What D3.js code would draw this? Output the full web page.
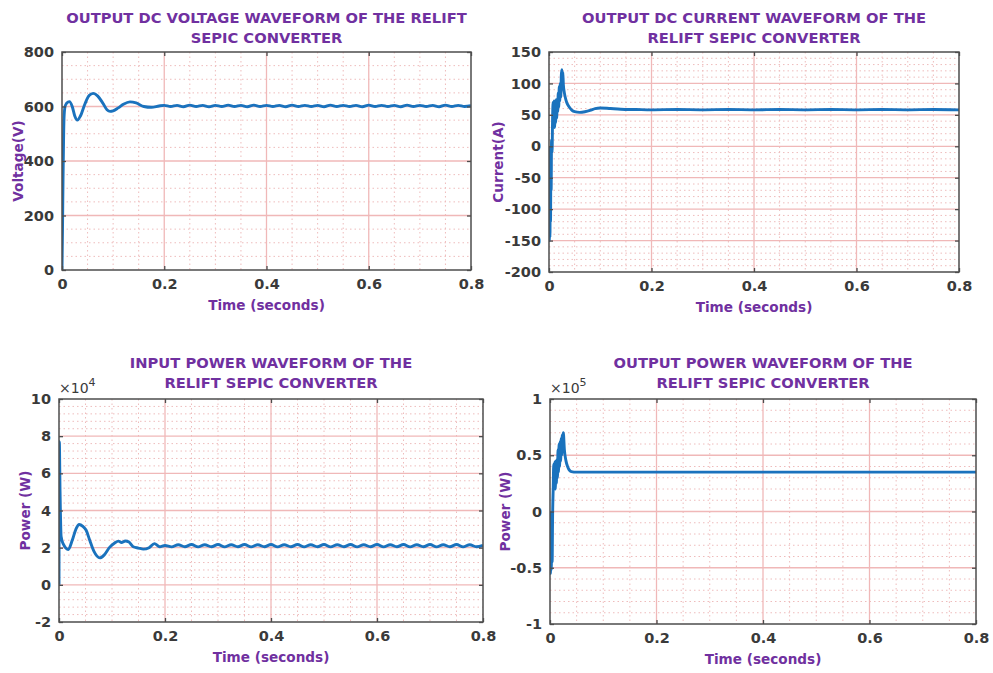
<!DOCTYPE html>
<html>
<head>
<meta charset="utf-8">
<script src="https://cdn.jsdelivr.net/npm/d3@7"></script>
<style>
  html, body { margin: 0; padding: 0; background: #ffffff; }
  svg { display: block; font-family: "DejaVu Sans", Verdana, sans-serif; }
</style>
</head>
<body>
<svg id="chart" width="993" height="673"></svg>
<script>
// ---------------- DATA ----------------
const xTicks = [0, 0.2, 0.4, 0.6, 0.8];
const xTickLabels = ["0", "0.2", "0.4", "0.6", "0.8"];

// Output DC voltage (V)
const voltageTime = [0, 0.001, 0.002, 0.003, 0.004, 0.006, 0.009, 0.0145, 0.02, 0.025, 0.030, 0.036, 0.045, 0.053, 0.061, 0.07, 0.08, 0.088, 0.094, 0.1, 0.11, 0.12, 0.133, 0.145, 0.16, 0.175, 0.19,
  0.2, 0.2125, 0.225, 0.2375, 0.25, 0.2625, 0.275, 0.2875, 0.3, 0.3125, 0.325, 0.3375, 0.35, 0.3625, 0.375, 0.3875, 0.4, 0.4125, 0.425, 0.4375, 0.45, 0.4625, 0.475, 0.4875, 0.5, 0.5125, 0.525, 0.5375, 0.55, 0.5625, 0.575, 0.5875, 0.6, 0.6125, 0.625, 0.6375, 0.65, 0.6625, 0.675, 0.6875, 0.7, 0.7125, 0.725, 0.7375, 0.75, 0.7625, 0.775, 0.7875, 0.8];
const voltage = [0, 150, 330, 470, 560, 600, 612, 618, 600, 565, 550, 565, 610, 640, 648, 638, 612, 588, 582, 584, 595, 608, 617, 613, 600, 597, 602,
  604, 600, 604, 599, 605, 600, 604, 599, 604, 600, 605, 600, 604, 599, 605, 600, 604, 600, 604, 599, 605, 600, 604, 600, 604, 599, 605, 600, 604, 600, 604, 599, 605, 600, 604, 600, 604, 599, 605, 600, 604, 600, 604, 599, 605, 600, 604, 600, 603];

// Output DC current (A)
const currentTime = [0, 0.0006, 0.0012, 0.0018, 0.0024, 0.003, 0.0036, 0.0042, 0.005, 0.006, 0.007, 0.008, 0.009, 0.010, 0.011, 0.012, 0.013, 0.014, 0.015, 0.016, 0.017, 0.018, 0.019, 0.020, 0.021, 0.022, 0.023, 0.024, 0.025, 0.026, 0.027, 0.028, 0.030, 0.033, 0.036, 0.04, 0.045, 0.05, 0.06, 0.07, 0.08, 0.09, 0.1, 0.12, 0.14, 0.17, 0.2, 0.25, 0.3, 0.35, 0.4, 0.45, 0.5, 0.55, 0.6, 0.65, 0.7, 0.75, 0.8];
const current = [0, -150, -70, -145, -90, -120, -40, -70, 10, -10, 45, 70, 35, 72, 30, 70, 38, 74, 45, 72, 55, 85, 62, 95, 72, 100, 78, 112, 122, 92, 118, 98, 85, 74, 67, 62, 57, 55, 54, 55, 57, 60, 61, 60, 59, 58.5, 58, 58.5, 58, 58.5, 58, 58.5, 58, 58.5, 58, 58.5, 58, 58.5, 58];

// Input power (x10^4 W)
const inPowerTime = [0, 0.0006, 0.002, 0.004, 0.008, 0.0175, 0.025, 0.032, 0.038, 0.045, 0.051, 0.058, 0.066, 0.077, 0.085, 0.095, 0.105, 0.112, 0.118, 0.125, 0.132, 0.14, 0.15, 0.159, 0.17, 0.18, 0.19,
  0.2, 0.2125, 0.225, 0.2375, 0.25, 0.2625, 0.275, 0.2875, 0.3, 0.3125, 0.325, 0.3375, 0.35, 0.3625, 0.375, 0.3875, 0.4, 0.4125, 0.425, 0.4375, 0.45, 0.4625, 0.475, 0.4875, 0.5, 0.5125, 0.525, 0.5375, 0.55, 0.5625, 0.575, 0.5875, 0.6, 0.6125, 0.625, 0.6375, 0.65, 0.6625, 0.675, 0.6875, 0.7, 0.7125, 0.725, 0.7375, 0.75, 0.7625, 0.775, 0.7875, 0.8];
const inPower = [0, 7.7, 5.0, 2.6, 2.2, 1.9, 2.4, 3.0, 3.25, 3.15, 2.95, 2.4, 1.8, 1.45, 1.6, 2.0, 2.25, 2.35, 2.28, 2.36, 2.3, 2.05, 1.98, 1.92, 2.0, 2.22, 2.05,
  2.12, 2.04, 2.16, 2.05, 2.17, 2.04, 2.16, 2.05, 2.17, 2.04, 2.16, 2.05, 2.17, 2.04, 2.16, 2.05, 2.17, 2.04, 2.16, 2.05, 2.17, 2.04, 2.16, 2.05, 2.17, 2.04, 2.16, 2.05, 2.17, 2.04, 2.16, 2.05, 2.17, 2.04, 2.16, 2.05, 2.17, 2.04, 2.16, 2.05, 2.17, 2.04, 2.16, 2.05, 2.17, 2.04, 2.16, 2.05, 2.12];

// Output power (x10^5 W)
const outPowerTime = [0, 0.0008, 0.0016, 0.0024, 0.0032, 0.004, 0.005, 0.006, 0.007, 0.008, 0.009, 0.010, 0.011, 0.012, 0.013, 0.014, 0.015, 0.016, 0.017, 0.018, 0.019, 0.020, 0.021, 0.022, 0.023, 0.024, 0.025, 0.027, 0.030, 0.033, 0.036, 0.04, 0.05, 0.1, 0.2, 0.3, 0.4, 0.5, 0.6, 0.7, 0.8];
const outPower = [0, -0.55, -0.15, -0.52, -0.2, -0.45, 0.0, 0.2, 0.42, 0.2, 0.44, 0.2, 0.45, 0.25, 0.46, 0.3, 0.55, 0.35, 0.6, 0.4, 0.62, 0.45, 0.65, 0.5, 0.68, 0.55, 0.70, 0.55, 0.45, 0.40, 0.37, 0.355, 0.35, 0.35, 0.35, 0.35, 0.35, 0.35, 0.35, 0.35, 0.35];

const titleVoltage = ["OUTPUT DC VOLTAGE WAVEFORM OF THE RELIFT", "SEPIC CONVERTER"];
const titleCurrent = ["OUTPUT DC CURRENT WAVEFORM OF THE", "RELIFT SEPIC CONVERTER"];
const titleInPower = ["INPUT POWER WAVEFORM OF THE", "RELIFT SEPIC CONVERTER"];
const titleOutPower = ["OUTPUT POWER WAVEFORM OF THE", "RELIFT SEPIC CONVERTER"];

const yTicksVoltage = [0, 200, 400, 600, 800];
const yTicksCurrent = [-200, -150, -100, -50, 0, 50, 100, 150];
const yTicksInPower = [-2, 0, 2, 4, 6, 8, 10];
const yTicksOutPower = [-1, -0.5, 0, 0.5, 1];

// ---------------- LAYOUT / STYLE ----------------
const purple = "#7030a0";
const tickColor = "#3a3a3a";
const lineColor = "#1a72bd";

const panels = [
  { box: {x0: 62, x1: 471, y0: 52, y1: 270}, title: titleVoltage, titleY: 23,
    yTicks: yTicksVoltage, yMinorStep: 50, ylabel: "Voltage(V)", ylabelX: 18,
    t: voltageTime, v: voltage, exponent: null },
  { box: {x0: 549, x1: 959, y0: 52, y1: 272}, title: titleCurrent, titleY: 23,
    yTicks: yTicksCurrent, yMinorStep: 10, ylabel: "Current(A)", ylabelX: 498,
    t: currentTime, v: current, exponent: null },
  { box: {x0: 59, x1: 483, y0: 399, y1: 622}, title: titleInPower, titleY: 368,
    yTicks: yTicksInPower, yMinorStep: 0.4, ylabel: "Power (W)", ylabelX: 25,
    t: inPowerTime, v: inPower, exponent: "4" },
  { box: {x0: 550, x1: 976, y0: 399, y1: 624}, title: titleOutPower, titleY: 368,
    yTicks: yTicksOutPower, yMinorStep: 0.1, ylabel: "Power (W)", ylabelX: 505,
    t: outPowerTime, v: outPower, exponent: "5" }
];

const svg = d3.select("#chart");

panels.forEach((p, idx) => {
  const b = p.box;
  const x = d3.scaleLinear().domain([0, 0.8]).range([b.x0, b.x1]);
  const yDom = d3.extent(p.yTicks);
  const y = d3.scaleLinear().domain(yDom).range([b.y1, b.y0]);
  const g = svg.append("g");

  // minor grid
  const xMinor = d3.range(0, 0.8 + 1e-9, 0.05).filter(v => !xTicks.some(t => Math.abs(t - v) < 1e-6));
  const yMinor = d3.range(yDom[0], yDom[1] + 1e-9, p.yMinorStep).filter(v => !p.yTicks.some(t => Math.abs(t - v) < 1e-6));
  g.append("g").selectAll("line").data(xMinor).join("line")
    .attr("x1", d => x(d)).attr("x2", d => x(d)).attr("y1", b.y0).attr("y2", b.y1)
    .attr("stroke", "#eebcbc").attr("stroke-width", 1).attr("stroke-dasharray", "1.5,3");
  g.append("g").selectAll("line").data(yMinor).join("line")
    .attr("y1", d => y(d)).attr("y2", d => y(d)).attr("x1", b.x0).attr("x2", b.x1)
    .attr("stroke", "#eebcbc").attr("stroke-width", 1).attr("stroke-dasharray", "1.5,3");

  // major grid
  g.append("g").selectAll("line").data(xTicks.slice(1, -1)).join("line")
    .attr("x1", d => x(d)).attr("x2", d => x(d)).attr("y1", b.y0).attr("y2", b.y1)
    .attr("stroke", "#f0b8b8").attr("stroke-width", 1.3);
  g.append("g").selectAll("line").data(p.yTicks.slice(1, -1)).join("line")
    .attr("y1", d => y(d)).attr("y2", d => y(d)).attr("x1", b.x0).attr("x2", b.x1)
    .attr("stroke", "#f0b8b8").attr("stroke-width", 1.3);

  // data line
  const clipId = "clip" + idx;
  svg.append("clipPath").attr("id", clipId).append("rect")
    .attr("x", b.x0).attr("y", b.y0 - 2).attr("width", b.x1 - b.x0).attr("height", b.y1 - b.y0 + 4);
  const pts = p.t.map((t, i) => [t, p.v[i]]);
  const line = d3.line().x(d => x(d[0])).y(d => y(d[1])).curve(d3.curveMonotoneX);
  g.append("path").datum(pts).attr("d", line)
    .attr("fill", "none").attr("stroke", lineColor).attr("stroke-width", 2.9)
    .attr("stroke-linejoin", "round").attr("clip-path", `url(#${clipId})`);

  // axes via d3 axis (inward ticks)
  const axB = d3.axisBottom(x).tickValues(xTicks).tickFormat((d, i) => xTickLabels[i]).tickSizeInner(-4).tickSizeOuter(0).tickPadding(9);
  const axT = d3.axisTop(x).tickValues(xTicks).tickFormat("").tickSizeInner(-4).tickSizeOuter(0);
  const axL = d3.axisLeft(y).tickValues(p.yTicks).tickFormat(d => String(d)).tickSizeInner(-4).tickSizeOuter(0).tickPadding(8);
  const axR = d3.axisRight(y).tickValues(p.yTicks).tickFormat("").tickSizeInner(-4).tickSizeOuter(0);

  const styleAxis = sel => {
    sel.select(".domain").remove();
    sel.selectAll(".tick line").attr("stroke", "#4d4d4d").attr("stroke-width", 1.3);
    sel.selectAll(".tick text").attr("fill", tickColor).attr("font-size", 14.5).attr("font-weight", "bold")
      .attr("font-family", "'DejaVu Sans', Verdana, sans-serif");
  };
  g.append("g").attr("transform", `translate(0,${b.y1})`).call(axB).call(styleAxis);
  g.append("g").attr("transform", `translate(0,${b.y0})`).call(axT).call(styleAxis);
  g.append("g").attr("transform", `translate(${b.x0},0)`).call(axL).call(styleAxis);
  g.append("g").attr("transform", `translate(${b.x1},0)`).call(axR).call(styleAxis);

  // box
  g.append("rect").attr("x", b.x0).attr("y", b.y0).attr("width", b.x1 - b.x0).attr("height", b.y1 - b.y0)
    .attr("fill", "none").attr("stroke", "#4d4d4d").attr("stroke-width", 1.5);

  // title
  const cx = (b.x0 + b.x1) / 2;
  p.title.forEach((line, i) => {
    g.append("text").attr("x", cx).attr("y", p.titleY + i * 20).attr("text-anchor", "middle")
      .attr("fill", purple).attr("font-size", 14.7).attr("font-weight", "bold").text(line);
  });

  // x label
  g.append("text").attr("x", cx).attr("y", b.y1 + 40).attr("text-anchor", "middle")
    .attr("fill", purple).attr("font-size", 13.6).attr("font-weight", "bold").text("Time (seconds)");

  // y label
  g.append("text").attr("transform", `translate(${p.ylabelX},${(b.y0 + b.y1) / 2}) rotate(-90)`)
    .attr("text-anchor", "middle").attr("dominant-baseline", "central")
    .attr("fill", purple).attr("font-size", 13.6).attr("font-weight", "bold").text(p.ylabel);

  // exponent label
  if (p.exponent) {
    const e = g.append("text").attr("x", b.x0).attr("y", b.y0 - 6).attr("fill", tickColor).attr("font-size", 14);
    e.append("tspan").text("×10");
    e.append("tspan").attr("dy", -7).attr("font-size", 11).text(p.exponent);
  }
});
</script>
</body>
</html>
